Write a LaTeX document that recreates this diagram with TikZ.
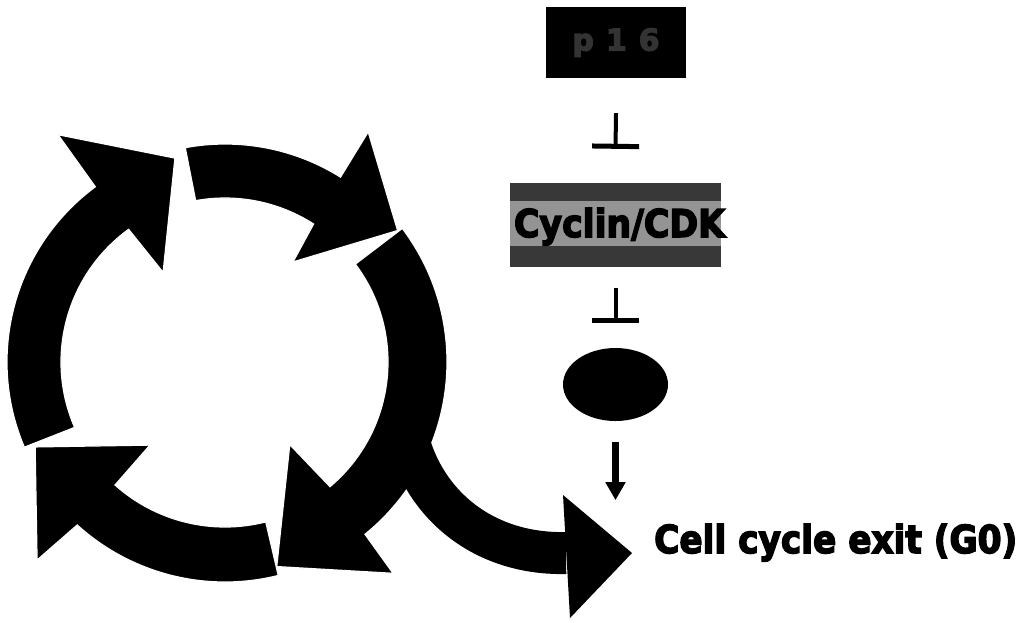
\documentclass[tikz,border=0pt]{standalone}
\usepackage{fontspec}
\setmainfont{DejaVu Sans}
\newfontfamily\heavy[BoldFeatures={FakeBold=4}]{DejaVu Sans}
\usetikzlibrary{arrows.meta,shapes.geometric}
\begin{document}
\begin{tikzpicture}[x=1pt,y=-1pt,
  cyc/.style={fill=black,draw=white,line width=1.2pt,line join=miter},
  inhib/.style={line width=4pt,-{Bar[width=47pt,line width=5pt]}},
  act/.style={line width=7pt,-{Triangle[width=19pt,length=18pt]}},
  lbl/.style={inner sep=0pt,font=\heavy\bfseries\fontsize{34}{40}\selectfont},
  topbox/.style={fill=black,minimum width=140pt,minimum height=71pt,inner sep=0pt},
  cdkbox/.style={fill=black!78,minimum width=211pt,minimum height=84pt,inner sep=0pt}]
\useasboundingbox (0,0) rectangle (1024,622);

% ---- cell cycle ring ----
\begin{scope}[shift={(225,362)}]
  % left arrow
  \path[cyc] (157:218) arc[start angle=157,end angle=233.5,radius=218]
    -- (233.7:282) -- (256.2:210) -- (235.4:109)
    -- (234:164) arc[start angle=234,end angle=156.5,radius=164] -- cycle;
  % top arrow
  \path[cyc] (259.5:218) arc[start angle=259.5,end angle=302,radius=218]
    -- (301.9:271) -- (322.7:217) -- (304.2:121)
    -- (302.7:164) arc[start angle=302.7,end angle=259.7,radius=164] -- cycle;
  % right arrow
  \path[cyc] (-37:222) arc[start angle=-37,end angle=50.9,radius=222]
    -- (51.5:270) -- (75.8:211) -- (51.9:105)
    -- (49.9:163) arc[start angle=49.9,end angle=-36.9,radius=163] -- cycle;
  % bottom arrow
  \path[cyc] (76:220) arc[start angle=76,end angle=132.2,radius=220]
    -- (133.5:273) -- (155.9:208) -- (132.1:112)
    -- (131.8:165) arc[start angle=131.8,end angle=75.7,radius=165] -- cycle;
\end{scope}

% ---- exit arrow ----
\coordinate (exitstart) at (405,425);
\coordinate (exitend) at (566,553);
\draw[line width=42pt] (exitstart) .. controls (418,500) and (480,555) .. (exitend);
\fill (563,495) -- (632,553) -- (570,618) -- cycle;

% ---- pathway ----
\node[topbox] (p16) at (616,42.5) {\color{black!80}\heavy\bfseries\fontsize{30}{34}\selectfont p\hspace{12pt}1\hspace{12pt}6};
\node[cdkbox] (cdk) at (615.5,225) {};
\fill[black!42] (510,201) rectangle (721,246);
\node[lbl,anchor=base] (cdktext) at (619.5,237) {\resizebox{211pt}{!}{\scalebox{1}[1.1]{Cyclin/CDK}}};
\node[ellipse,fill=black,minimum width=105pt,minimum height=73pt,inner sep=0pt] (rb) at (615.5,384.5) {};
\node[lbl,anchor=base west] (exit) at (654,553) {\resizebox{363pt}{!}{\scalebox{1}[1.12]{Cell cycle exit (G0)}}};

\draw[inhib] ([yshift=-35pt]p16.south) -- ([yshift=34pt]cdk.north);
\draw[inhib] ([yshift=-21pt]cdk.south) -- ([yshift=25pt]rb.north);
\draw[act] ([yshift=-21pt]rb.south) -- ([yshift=-79pt]rb.south);
\end{tikzpicture}
\end{document}
